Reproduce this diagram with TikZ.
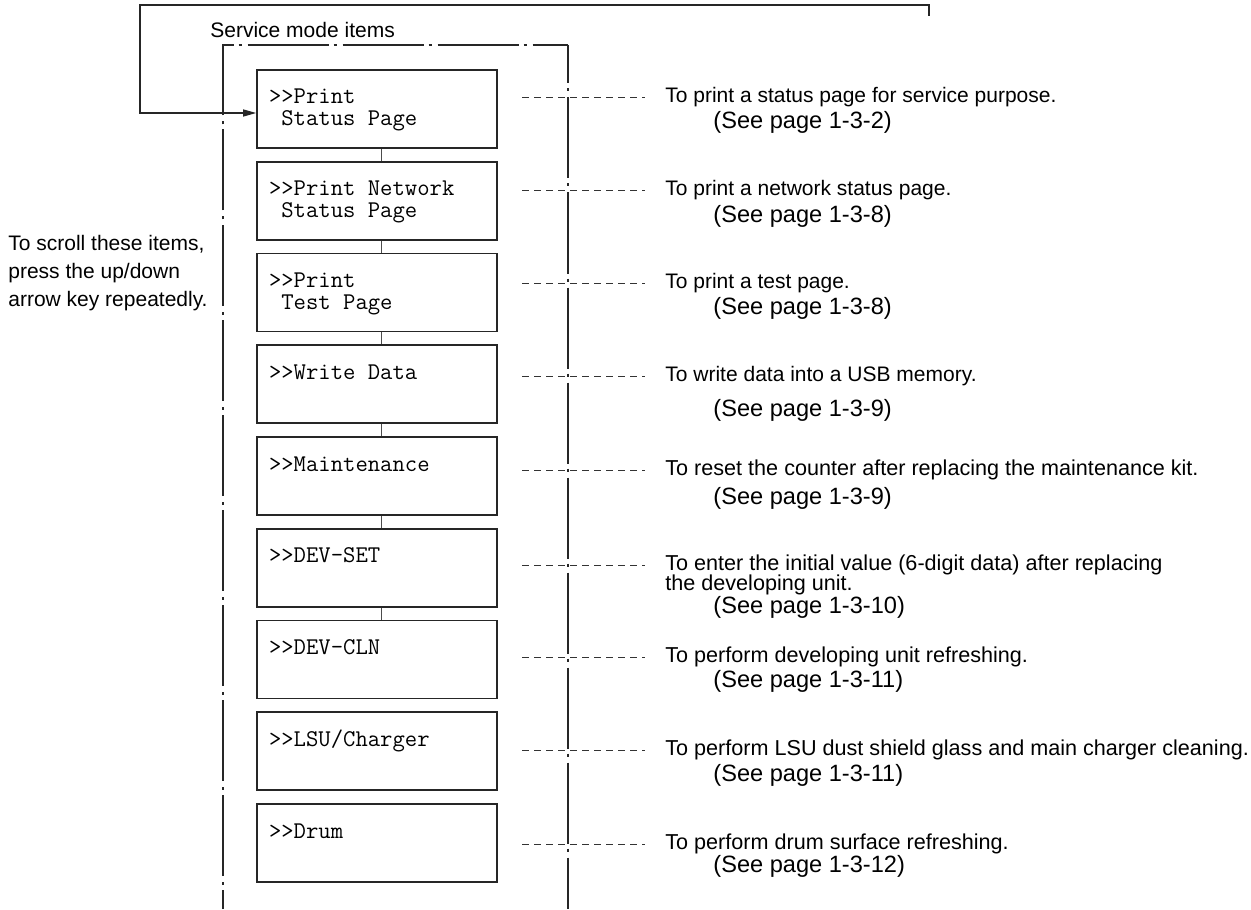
\documentclass[tikz,border=0pt]{standalone}
\usepackage{fontspec}
\setmainfont{Liberation Sans}
\usetikzlibrary{arrows.meta,positioning}

\newcommand{\sel}{>\kern0pt>}
\newcommand{\lcd}[1]{\parbox[c][39pt][t]{108pt}{\ttfamily\fontsize{12}{11}\selectfont\rule{0pt}{17pt}#1}}

\tikzset{
  itembox/.style={draw=black!85, line width=0.8pt, minimum width=120pt, minimum height=39pt, inner sep=0pt},
  desc/.style={anchor=west, inner sep=0pt, font=\fontsize{10.5}{12}\selectfont, text height=7.5pt, text depth=2.2pt},
  descb/.style={desc, font=\fontsize{10.8}{12}\selectfont},
  seeref/.style={desc, font=\fontsize{11.8}{13}\selectfont, text height=8.5pt, text depth=2.5pt},
  note/.style={inner sep=0pt, font=\fontsize{10.5}{14}\selectfont},
  frame/.style={black!85, line width=0.7pt, dash pattern=on 40.5pt off 2.5pt on 1.5pt off 3pt},
  leader/.style={black!80, line width=0.4pt, dash pattern=on 3.5pt off 2.5pt},
  link/.style={black!70, line width=0.5pt},
  back/.style={black!85, line width=0.6pt, -{Triangle[length=6.5pt,width=3.5pt]}}
}

\begin{document}
\begin{tikzpicture}[x=0.5pt, y=-0.5pt]
  \useasboundingbox (0,0) rectangle (1251,909);

  % frame round the items
  \draw[frame, dash phase=30.75pt] (223,909) |- (568,45);
  \draw[frame, dash phase=21.25pt] (568,45) -- (568,909);
  \node[note, anchor=west] (title) at (210,30) {Service mode items};

  % menu boxes
  \foreach \i/\y/\txt in {1/109/{\sel Print\\\phantom{x}Status Page},
      2/200.75/{\sel Print Network\\\phantom{x}Status Page},
      3/292.5/{\sel Print\\\phantom{x}Test Page},
      4/384.25/{\sel Write Data},
      5/476/{\sel Maintenance},
      6/567.75/{\sel DEV-SET},
      7/659.5/{\sel DEV-CLN},
      8/751.25/{\sel LSU/Charger},
      9/843/{\sel Drum}} {
    \node[itembox] (b\i) at (377,\y) {\lcd{\txt}};
  }
  \foreach \i/\j in {1/2,2/3,3/4,4/5,5/6,6/7}
    \draw[link] ([xshift=2pt]b\i.south) -- ([xshift=2pt]b\j.north);

  % descriptions
  \foreach \i/\y/\dy/\st/\txt/\pg in {1/97/26/desc/{To print a status page for service purpose.}/1-3-2,
      2/190/26/desc/{To print a network status page.}/1-3-8,
      3/283/25/desc/{To print a test page.}/1-3-8,
      4/376/34/desc/{To write data into a USB memory.}/1-3-9,
      5/470/28/descb/{To reset the counter after replacing the maintenance kit.}/1-3-9,
      6/565/42/descb/{To enter the initial value (6-digit data) after replacing}/1-3-10,
      7/657/24/descb/{To perform developing unit refreshing.}/1-3-11,
      8/750/25/descb/{To perform LSU dust shield glass and main charger cleaning.}/1-3-11,
      9/844/22/descb/{To perform drum surface refreshing.}/1-3-12} {
    \node[\st] (d\i) at (665,\y) {\txt};
    \node[seeref] (s\i) at ([shift={(48,\dy)}]d\i.west) {(See page \pg)};
    \coordinate (l\i) at (522,\y);
    \draw[leader, shorten >=10pt] (l\i) -- (d\i.west);
  }
  \node[descb] (d6b) at ([yshift=-10pt]d6.west) {the developing unit.};

  % return line to the first item
  \coordinate (ret) at (929,16);
  \draw[back] (ret) |- (140,5) |- ([yshift=-2pt]b1.west);

  \node[note, anchor=west, align=left] (scroll) at (8,273)
    {To scroll these items,\\press the up/down\\arrow key repeatedly.};
\end{tikzpicture}
\end{document}
